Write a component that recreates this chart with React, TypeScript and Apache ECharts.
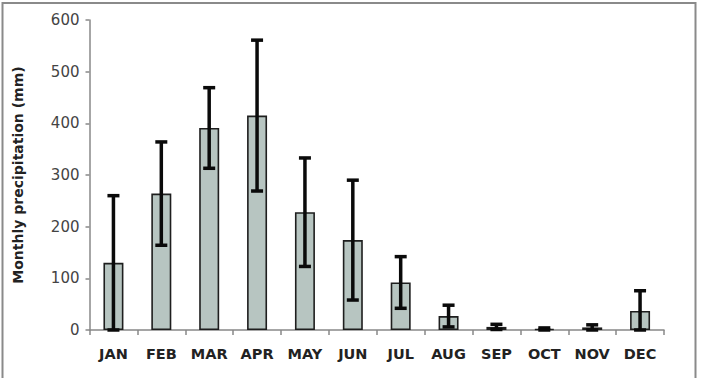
import React, { useEffect, useRef } from "react";
import * as echarts from "echarts";

const months = ["JAN", "FEB", "MAR", "APR", "MAY", "JUN", "JUL", "AUG", "SEP", "OCT", "NOV", "DEC"];
const meanPrecip = [130, 264, 391, 415, 228, 174, 92, 27, 6, 2, 5, 37];
const stdDev = [130, 100, 78, 146, 105, 116, 50, 21, 5, 2, 5, 39];
const yAxisName = "Monthly precipitation (mm)";

export default function App() {
  const ref = useRef<HTMLDivElement>(null);
  useEffect(() => {
    if (!ref.current) return;
    const chart = echarts.init(ref.current, undefined, { renderer: "svg" });
    const errData = months.map((_, i) => [
      i,
      Math.max(0, meanPrecip[i] - stdDev[i]),
      meanPrecip[i] + stdDev[i],
    ]);
    const font = "'DejaVu Sans', Verdana, sans-serif";
    chart.setOption({
      animation: false,
      backgroundColor: "#ffffff",
      graphic: [
        {
          type: "rect",
          shape: { x: 2.5, y: 3, width: 693, height: 400 },
          style: { fill: "none", stroke: "#8a8a8a", lineWidth: 2 },
          silent: true,
        },
      ],
      grid: { left: 89.5, right: 38, top: 20, bottom: 48 },
      xAxis: {
        type: "category",
        data: months,
        axisLine: { lineStyle: { color: "#888", width: 1.5 } },
        axisTick: { show: true, alignWithLabel: false, length: 5, lineStyle: { color: "#888", width: 1.5 } },
        axisLabel: {
          interval: 0,
          color: "#222",
          fontFamily: font,
          fontWeight: "bold",
          fontSize: 14.5,
          margin: 16,
        },
      },
      yAxis: {
        type: "value",
        min: 0,
        max: 600,
        interval: 100,
        name: yAxisName,
        nameLocation: "middle",
        nameGap: 65,
        nameTextStyle: { color: "#222", fontFamily: font, fontWeight: "bold", fontSize: 14 },
        axisLine: { show: true, lineStyle: { color: "#888", width: 1.5 } },
        axisTick: { show: true, length: 4, lineStyle: { color: "#888", width: 1.5 } },
        splitLine: { show: false },
        axisLabel: { color: "#444", fontFamily: font, fontSize: 15, margin: 10 },
      },
      series: [
        {
          type: "bar",
          data: meanPrecip,
          barWidth: 20,
          itemStyle: { color: "#b7c5c1", borderColor: "#1e1e1e", borderWidth: 1.6 },
        },
        {
          type: "custom",
          data: errData,
          z: 10,
          renderItem: (params: any, api: any) => {
            const x = api.value(0);
            const lo = api.coord([x, api.value(1)]);
            const hi = api.coord([x, api.value(2)]);
            const hw = 6;
            const style = { stroke: "#0a0a0a", lineWidth: 3.5 };
            return {
              type: "group",
              children: [
                { type: "line", shape: { x1: lo[0], y1: lo[1], x2: hi[0], y2: hi[1] }, style },
                { type: "line", shape: { x1: hi[0] - hw, y1: hi[1], x2: hi[0] + hw, y2: hi[1] }, style },
                { type: "line", shape: { x1: lo[0] - hw, y1: lo[1], x2: lo[0] + hw, y2: lo[1] }, style },
              ],
            };
          },
        },
      ],
    });
    return () => chart.dispose();
  }, []);
  return (
    <div
      ref={ref}
      style={{ position: "fixed", left: 0, top: 0, width: 702, height: 378, background: "#fff" }}
    />
  );
}
